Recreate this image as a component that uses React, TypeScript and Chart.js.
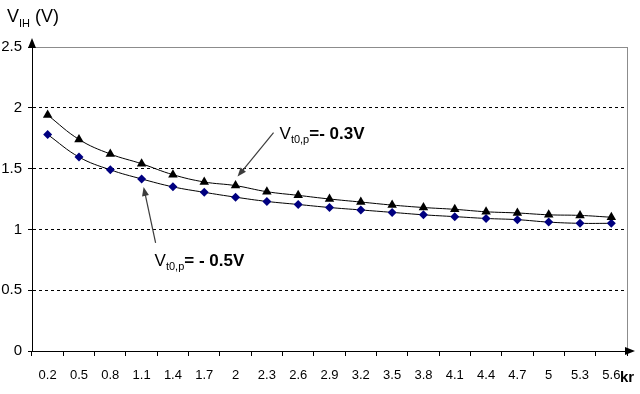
import React, { useEffect, useRef } from "react";
import { Chart, registerables } from "chart.js";

Chart.register(...registerables);

// kr values along the category axis
const krLabels = [
  "0.2", "0.5", "0.8", "1.1", "1.4", "1.7", "2", "2.3", "2.6", "2.9",
  "3.2", "3.5", "3.8", "4.1", "4.4", "4.7", "5", "5.3", "5.6",
];

// V_IH for Vt0,p = -0.3 V
const vihMinus03 = [
  1.94, 1.74, 1.62, 1.54, 1.45, 1.39, 1.36, 1.31, 1.28, 1.25,
  1.225, 1.2, 1.18, 1.165, 1.145, 1.135, 1.12, 1.115, 1.1,
];

// V_IH for Vt0,p = -0.5 V
const vihMinus05 = [
  1.78, 1.595, 1.49, 1.415, 1.35, 1.305, 1.265, 1.23, 1.205, 1.18,
  1.16, 1.14, 1.12, 1.105, 1.09, 1.08, 1.06, 1.05, 1.05,
];

const yTicks = [0, 0.5, 1, 1.5, 2, 2.5];

const FONT = "'Liberation Sans', Arial, sans-serif";

// Writes main text + subscript + rest, starting at (x, baseline y)
function drawSubLabel(
  ctx: CanvasRenderingContext2D,
  x: number,
  y: number,
  main: string,
  sub: string,
  rest: string,
  size: number,
  restBold: boolean
) {
  ctx.save();
  ctx.fillStyle = "#000";
  ctx.textBaseline = "alphabetic";
  ctx.textAlign = "left";
  ctx.font = `${size}px ${FONT}`;
  ctx.fillText(main, x, y);
  let cx = x + ctx.measureText(main).width;
  const subSize = Math.round(size * 0.62);
  ctx.font = `${subSize}px ${FONT}`;
  ctx.fillText(sub, cx, y + size * 0.25);
  cx += ctx.measureText(sub).width;
  ctx.font = `${restBold ? "bold " : ""}${size}px ${FONT}`;
  ctx.fillText(rest, cx, y);
  ctx.restore();
}

function drawArrow(
  ctx: CanvasRenderingContext2D,
  x0: number,
  y0: number,
  x1: number,
  y1: number,
  color: string
) {
  const ang = Math.atan2(y1 - y0, x1 - x0);
  const len = 9;
  const half = 3.5;
  ctx.save();
  ctx.strokeStyle = color;
  ctx.fillStyle = color;
  ctx.lineWidth = 1.2;
  ctx.beginPath();
  ctx.moveTo(x0, y0);
  ctx.lineTo(x1 - Math.cos(ang) * len * 0.8, y1 - Math.sin(ang) * len * 0.8);
  ctx.stroke();
  ctx.beginPath();
  ctx.moveTo(x1, y1);
  ctx.lineTo(
    x1 - Math.cos(ang) * len - Math.sin(ang) * half,
    y1 - Math.sin(ang) * len + Math.cos(ang) * half
  );
  ctx.lineTo(
    x1 - Math.cos(ang) * len + Math.sin(ang) * half,
    y1 - Math.sin(ang) * len - Math.cos(ang) * half
  );
  ctx.closePath();
  ctx.fill();
  ctx.restore();
}

const decorations = {
  id: "decorations",
  afterDraw(chart: any) {
    const { ctx, chartArea, scales } = chart;
    const { left, right, top, bottom } = chartArea;
    const xs = scales.x;
    const ys = scales.y;

    ctx.save();
    // right frame line
    ctx.strokeStyle = "#8c8c8c";
    ctx.lineWidth = 1;
    ctx.beginPath();
    ctx.moveTo(right + 0.5, top);
    ctx.lineTo(right + 0.5, bottom);
    ctx.stroke();

    // axis arrowheads
    ctx.fillStyle = "#000";
    ctx.beginPath();
    ctx.moveTo(left, top - 9);
    ctx.lineTo(left - 4, top + 1);
    ctx.lineTo(left + 4, top + 1);
    ctx.closePath();
    ctx.fill();
    ctx.beginPath();
    ctx.moveTo(right + 8, bottom);
    ctx.lineTo(right - 2, bottom - 4);
    ctx.lineTo(right - 2, bottom + 4);
    ctx.closePath();
    ctx.fill();

    // axis titles
    drawSubLabel(ctx, 7, 22, "V", "IH", " (V)", 18, false);
    ctx.font = `bold 15px ${FONT}`;
    ctx.textAlign = "left";
    ctx.textBaseline = "middle";
    ctx.fillText("kr", 620, 378);
    ctx.restore();

    // series callouts, anchored to the points they point at
    const p03x = xs.getPixelForValue(6);
    const p03y = ys.getPixelForValue(vihMinus03[6]);
    drawArrow(ctx, p03x + 38, p03y - 53, p03x + 2, p03y - 9, "#3c3c3c");
    drawSubLabel(ctx, p03x + 44, p03y - 47, "V", "t0,p", "=- 0.3V", 17, true);

    const p05x = xs.getPixelForValue(3);
    const p05y = ys.getPixelForValue(vihMinus05[3]);
    drawArrow(ctx, p05x + 14, p05y + 64, p05x + 2, p05y + 8, "#3c3c3c");
    drawSubLabel(ctx, p05x + 13, p05y + 87, "V", "t0,p", "= - 0.5V", 17, true);
  },
};

export default function App() {
  const canvasRef = useRef<HTMLCanvasElement | null>(null);

  useEffect(() => {
    document.body.style.margin = "0";
    const canvas = canvasRef.current;
    if (!canvas) return;
    const chart = new Chart(canvas, {
      type: "line",
      data: {
        labels: krLabels,
        datasets: [
          {
            label: "Vt0,p = -0.3V",
            data: vihMinus03,
            borderColor: "#000",
            borderWidth: 1,
            backgroundColor: "#000",
            pointStyle: "triangle",
            pointRadius: 5.5,
            pointBorderWidth: 0,
            pointBackgroundColor: "#000",
            tension: 0.4,
          },
          {
            label: "Vt0,p = -0.5V",
            data: vihMinus05,
            borderColor: "#000",
            borderWidth: 1,
            backgroundColor: "#000080",
            pointStyle: "rectRot",
            pointRadius: 4.5,
            pointBorderWidth: 0,
            pointBackgroundColor: "#000080",
            tension: 0.4,
          },
        ],
      },
      options: {
        animation: false,
        responsive: false,
        layout: { padding: { top: 47, right: 13, left: 0, bottom: 0 } },
        plugins: {
          legend: { display: false },
          tooltip: { enabled: false },
        },
        scales: {
          x: {
            type: "category",
            offset: true,
            afterFit: (s: any) => {
              s.height = 43;
            },
            grid: {
              offset: true,
              drawOnChartArea: false,
              drawTicks: true,
              tickLength: 5,
              tickColor: "#000",
            },
            border: { display: true, color: "#000", width: 1 },
            ticks: {
              color: "#000",
              padding: 12,
              maxRotation: 0,
              autoSkip: false,
              font: { family: FONT, size: 13 },
            },
          },
          y: {
            min: 0,
            max: 2.5,
            afterFit: (s: any) => {
              s.width = 32;
            },
            afterBuildTicks: (s: any) => {
              s.ticks = yTicks.map((v) => ({ value: v }));
            },
            grid: {
              color: (c: any) => (c.tick && c.tick.value === 2.5 ? "#8c8c8c" : "#000"),
              lineWidth: 1,
              drawTicks: true,
              tickLength: 4,
              tickColor: "#000",
            },
            border: {
              display: true,
              color: "#000",
              width: 1,
              dash: (c: any) => (c.tick && c.tick.value === 2.5 ? [] : [3, 3]),
            },
            ticks: {
              color: "#000",
              padding: 6,
              font: { family: FONT, size: 15 },
              callback: (v: any) => String(v),
            },
          },
        },
      },
      plugins: [decorations],
    });
    return () => chart.destroy();
  }, []);

  return (
    <div style={{ width: 640, height: 394, background: "#fff" }}>
      <canvas ref={canvasRef} width={640} height={394} />
    </div>
  );
}
